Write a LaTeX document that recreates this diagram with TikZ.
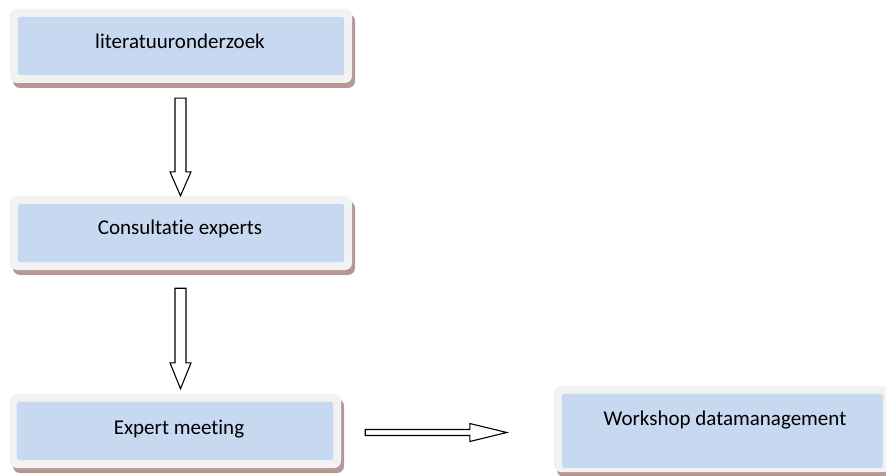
\documentclass[tikz,border=0pt]{standalone}
\usepackage{fontspec}
\setmainfont{Carlito}[RawFeature={-liga;-clig;-dlig}]
\usetikzlibrary{calc,shadows}
\definecolor{innerblue}{HTML}{C6D9F1}
\definecolor{outergray}{HTML}{F2F2F2}
\definecolor{shadowc}{HTML}{B89696}
\tikzset{
  outerbox/.style={rectangle, rounded corners=7pt, fill=outergray, inner sep=0pt,
    drop shadow={fill=shadowc, opacity=1, shadow xshift=3pt, shadow yshift=-5pt}},
  innerbox/.style={fill=innerblue, rounded corners=3pt},
  lbl/.style={anchor=base, inner sep=0pt, font=\fontsize{21}{25}\selectfont},
  hollow/.style={draw=black, fill=white, line width=1.1pt, line join=miter},
}
\begin{document}
\begin{tikzpicture}[x=1pt,y=-1pt]
\useasboundingbox (0,0) rectangle (886,476);
\clip (0,0) rectangle (886,476);
% boxes
\node[outerbox, minimum width=342pt, minimum height=74pt] (b1) at (181,46) {};
\node[outerbox, minimum width=342pt, minimum height=74pt] (b2) at (181,233) {};
\node[outerbox, minimum width=331pt, minimum height=74pt] (b3) at (175.5,431) {};
\node[outerbox, minimum width=337pt, minimum height=86pt] (b4) at (722.5,429) {};
\fill[innerbox] ($(b1.north west)+(8,8)$) rectangle ($(b1.south east)+(-8,-8)$);
\fill[innerbox] ($(b2.north west)+(8,8)$) rectangle ($(b2.south east)+(-8,-8)$);
\fill[innerbox] ($(b3.north west)+(7,8)$) rectangle ($(b3.south east)+(-8,-8)$);
\fill[innerbox] ($(b4.north west)+(8,8)$) rectangle ($(b4.south east)+(-8,-4)$);
% labels
\node[lbl] (t1) at (180,49) {literatuuronderzoek};
\node[lbl] (t2) at (180,234) {Consultatie experts};
\node[lbl] (t3) at (179,434) {Expert meeting};
\node[lbl] (t4) at (725,425) {Workshop datamanagement};
% vertical hollow arrows
\draw[hollow] let \p1=($(b1.south)+(-0.5,15)$), \p2=(b2.north) in
  (\x1-5.5pt,\y1) -- (\x1+5.5pt,\y1) -- (\x1+5.5pt,\y2+24pt) -- (\x1+10.5pt,\y2+24pt)
  -- (\x1,\y2) -- (\x1-10.5pt,\y2+24pt) -- (\x1-5.5pt,\y2+24pt) -- cycle;
\draw[hollow] let \p1=($(b2.south)+(-0.5,18)$), \p2=($(b3.north)+(0,-5)$) in
  (\x1-5.5pt,\y1) -- (\x1+5.5pt,\y1) -- (\x1+5.5pt,\y2+26pt) -- (\x1+10.5pt,\y2+26pt)
  -- (\x1,\y2) -- (\x1-10.5pt,\y2+26pt) -- (\x1-5.5pt,\y2+26pt) -- cycle;
% horizontal hollow arrow
\draw[hollow] let \p1=($(b3.east)+(24,1.5)$), \p2=($(b4.west)+(-47,0)$) in
  (\x1,\y1+3pt) -- (\x2-37pt,\y1+3pt) -- (\x2-37pt,\y1+9pt) -- (\x2,\y1)
  -- (\x2-37pt,\y1-9pt) -- (\x2-37pt,\y1-3pt) -- (\x1,\y1-3pt) -- cycle;
\end{tikzpicture}
\end{document}
